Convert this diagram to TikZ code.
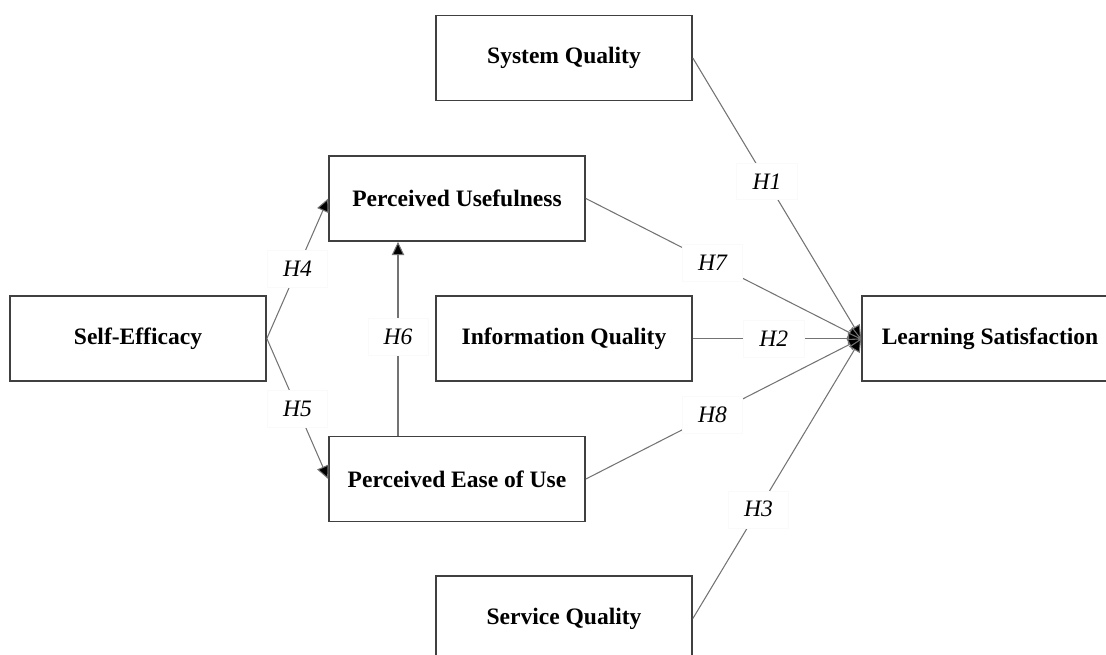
\documentclass[tikz,border=0pt]{standalone}
\usepackage{fontspec}
\setmainfont{Liberation Serif}
\usetikzlibrary{arrows.meta}
\begin{document}
\begin{tikzpicture}[x=0.02cm,y=-0.02cm,
  construct/.style={draw=black!75,line width=1pt,fill=white,minimum width=5.12cm,minimum height=1.70cm,
    font=\fontsize{13.4}{16}\selectfont\bfseries,inner sep=0pt},
  link/.style={draw=black!55,line width=0.6pt},
  arr/.style={link,-{Triangle[length=7.5pt,width=7pt,fill=black]}},
  hyp/.style={fill=white,draw=black!2,line width=0.3pt,font=\fontsize{13.4}{16}\selectfont\itshape,
    inner xsep=9pt,inner ysep=6pt}]
  \useasboundingbox (0,0) rectangle (1106,654);
  \clip (0,0) rectangle (1106,654);

  % constructs
  \node[construct] (sq)  at (564,58)    {System Quality};
  \node[construct] (pu)  at (457,198.5) {Perceived Usefulness};
  \node[construct] (se)  at (138,338.5) {Self-Efficacy};
  \node[construct] (iq)  at (564,338.5) {Information Quality};
  \node[construct] (peu) at (457,479)   {Perceived Ease of Use};
  \node[construct] (ls)  at (990,338.5) {Learning Satisfaction};
  \node[construct] (svq) at (564,618.5) {Service Quality};
  \coordinate (h6x) at (398,0);

  % paths into learning satisfaction
  \draw[arr] (sq.east)  -- node[hyp,pos=0.44] {H1} (ls.west);
  \draw[arr] (pu.east)  -- node[hyp,pos=0.46] {H7} (ls.west);
  \draw[arr] (iq.east)  -- node[hyp,pos=0.48] {H2} (ls.west);
  \draw[arr] (peu.east) -- node[hyp,pos=0.46] {H8} (ls.west);
  \draw[arr] (svq.east) -- node[hyp,pos=0.39] {H3} (ls.west);

  % self-efficacy and TAM paths
  \draw[arr] (se.east) -- node[hyp,pos=0.5] {H4} (pu.west);
  \draw[arr] (se.east) -- node[hyp,pos=0.5] {H5} (peu.west);
  \draw[arr] (peu.north -| h6x) -- node[hyp,pos=0.51] {H6} (pu.south -| h6x);
\end{tikzpicture}
\end{document}
